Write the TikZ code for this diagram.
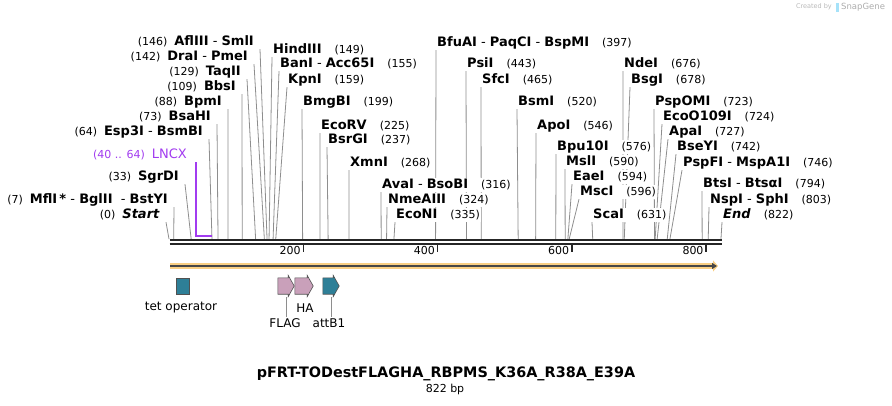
\documentclass[tikz,border=0pt]{standalone}
\usepackage{fontspec}
\setmainfont{DejaVu Sans}
\usetikzlibrary{arrows.meta,backgrounds}

\definecolor{sitegray}{HTML}{8E8E8E}
\definecolor{lncxpurple}{HTML}{A23CF0}
\definecolor{featteal}{HTML}{2E7F97}
\definecolor{featpink}{HTML}{C9A0BA}
\definecolor{bandorange}{HTML}{F9CF84}
\definecolor{bardark}{HTML}{262626}

\newcommand\enz[1]{\textbf{#1}}
\newcommand\bpn[1]{{\fontsize{11}{13}\selectfont(#1)}}
\newcommand\bpx[1]{169+0.6715*#1}
% arrow outline drawn round a named feature node
\newcommand\featshape[2]{%
  \draw[featbox, fill=#2] (#1.north west) -- ([xshift=-6pt]#1.north east)
    -- ([xshift=-6pt,yshift=2.5pt]#1.north east) -- (#1.east)
    -- ([xshift=-6pt,yshift=-2.5pt]#1.south east) -- ([xshift=-6pt]#1.south east)
    -- (#1.south west) -- cycle;}

\tikzset{
  sitebase/.style={fill=white, inner xsep=1pt, inner ysep=1pt, text height=9.5pt, text depth=2.5pt,
    font=\fontsize{13}{15}\selectfont},
  sitel/.style={sitebase, anchor=east},
  siter/.style={sitebase, anchor=west},
  cutline/.style={draw=sitegray, line width=0.8pt},
  seqbar/.style={draw=bardark, line width=2pt},
  scaletick/.style={draw=bardark, line width=1.6pt},
  scalenum/.style={font=\fontsize{11}{13}\selectfont, inner sep=1pt},
  featbox/.style={draw=bardark!80, line width=0.6pt, inner sep=0pt},
  featspot/.style={inner sep=0pt, minimum height=16pt},
  feattext/.style={font=\fontsize{12}{14}\selectfont, inner sep=1pt},
}

\begin{document}
\begin{tikzpicture}[x=1pt, y=-1pt]
\useasboundingbox (0,0) rectangle (892,405);

% sites left of their cut
\foreach \site/\xx/\yy/\txt [count=\i] in {
  146/255/42/{\enz{AflIII}\ -\ \enz{SmlI}},
  142/249/57/{\enz{DraI}\ -\ \enz{PmeI}},
  129/242/72/{\enz{TaqII}},
  109/237/87/{\enz{BbsI}},
  88/223/102/{\enz{BpmI}},
  73/212/117/{\enz{BsaHI}},
  64/204/132/{\enz{Esp3I}\ -\ \enz{BsmBI}},
  33/180/177/{\enz{SgrDI}},
  7/169/200/{\enz{MflI\,*}\ -\ \enz{BglII}\ \ -\ \enz{BstYI}},
  0/161/215/{\enz{\itshape Start}}} {
  \node[sitel] (l-\i) at (\xx,\yy) {\bpn{\site}\hspace{7pt}\txt};
  \coordinate (lc-\i) at ({\bpx{\site}},239);
  \begin{scope}[on background layer]
    \draw[cutline] ([xshift=5pt]l-\i.south east) -- (lc-\i);
  \end{scope}
}

% sites right of their cut
\foreach \site/\xx/\yy/\txt [count=\i] in {
  149/273/50/{\enz{HindIII}},
  155/280/64/{\enz{BanI}\ -\ \enz{Acc65I}},
  159/288/80/{\enz{KpnI}},
  199/303/102/{\enz{BmgBI}},
  225/321/126/{\enz{EcoRV}},
  237/328/140/{\enz{BsrGI}},
  268/350/163/{\enz{XmnI}},
  316/382/185/{\enz{AvaI}\ -\ \enz{BsoBI}},
  324/388/200/{\enz{NmeAIII}},
  335/396/215/{\enz{EcoNI}},
  397/437/43/{\enz{BfuAI}\ -\ \enz{PaqCI}\ -\ \enz{BspMI}},
  443/467/64/{\enz{PsiI}},
  465/482/80/{\enz{SfcI}},
  520/518/102/{\enz{BsmI}},
  546/537/126/{\enz{ApoI}},
  576/557/147/{\enz{Bpu10I}},
  590/566/162/{\enz{MslI}},
  594/573/177/{\enz{EaeI}},
  596/580/192/{\enz{MscI}},
  631/593/215/{\enz{ScaI}},
  676/624/64/{\enz{NdeI}},
  678/631/80/{\enz{BsgI}},
  723/655/102/{\enz{PspOMI}},
  724/663/117/{\enz{EcoO109I}},
  727/669/132/{\enz{ApaI}},
  742/677/147/{\enz{BseYI}},
  746/683/163/{\enz{PspFI}\ -\ \enz{MspA1I}},
  794/703/184/{\enz{BtsI}\ -\ \enz{BtsαI}},
  803/710/200/{\enz{NspI}\ -\ \enz{SphI}},
  822/723/215/{\enz{\itshape End}}} {
  \node[siter] (r-\i) at (\xx-1,\yy) {\txt\hspace{13pt}\bpn{\site}};
  \coordinate (rc-\i) at ({\bpx{\site}},239);
  \begin{scope}[on background layer]
    \draw[cutline] (r-\i.south west) -- (rc-\i);
  \end{scope}
}

% LNCX bracket
\node[sitel, text=lncxpurple] (lncx) at (188,155) {\bpn{40 .. 64}\hspace{7pt}LNCX};
\coordinate (lncx-a) at ({\bpx{40}},236);
\coordinate (lncx-b) at ({\bpx{64}},236);
\draw[lncxpurple, line width=1.3pt] (lncx-a |- lncx.south) -- (lncx-a) -- (lncx-b);

% sequence bar and scale
\coordinate (bar-a) at (169.5,240);
\coordinate (bar-b) at (722,240);
\coordinate (bar-c) at (169.5,244.3);
\coordinate (bar-d) at (722,244.3);
\draw[seqbar] (bar-a) -- (bar-b);
\draw[seqbar] (bar-c) -- (bar-d);
\foreach \t in {200,400,600,800} {
  \coordinate (tk-\t) at ({\bpx{\t}},245);
  \coordinate (tke-\t) at ({\bpx{\t}},252);
  \draw[scaletick] (tk-\t) -- (tke-\t);
  \node[scalenum, anchor=north east] (tn-\t) at ([xshift=-1.5pt]tk-\t) {\t};
}

% reading direction
\coordinate (ori-a) at (170,266);
\coordinate (ori-b) at (718,266);
\draw[bandorange, line width=5.5pt, -{Triangle[length=5pt,width=11pt]}] (ori-a) -- (ori-b);
\draw[bardark!85, line width=1.6pt, -{Triangle[length=5pt,width=6pt]}] (ori-a) -- ([xshift=-1pt]ori-b);

% features
\node[featbox, fill=featteal, minimum width=13pt, minimum height=16pt] (tetop) at (182.5,286) {};
\node[featspot, minimum width=16pt] (flag) at (286,286) {};
\node[featspot, minimum width=18pt] (ha) at (304,286) {};
\node[featspot, minimum width=16pt] (attb) at (331,286) {};
\featshape{flag}{featpink}
\featshape{ha}{featpink}
\featshape{attb}{featteal}
\node[feattext] (tetop-t) at (181,308) {tet operator};
\node[feattext] (ha-t) at (305,308) {HA};
\node[feattext] (flag-t) at (285,323) {FLAG};
\node[feattext] (attb-t) at (329,323) {attB1};
\draw[cutline] ([yshift=-3pt]flag.south) -- (flag.south |- flag-t.north);
\draw[cutline] ([yshift=-3pt]attb.south) -- (attb.south |- attb-t.north);

% title
\node[font=\bfseries\fontsize{14.4}{16}\selectfont] (title) at (446,374)
  {pFRT-TODestFLAGHA\_RBPMS\_K36A\_R38A\_E39A};
\node[font=\fontsize{11}{13}\selectfont] (size) at (445,389) {822 bp};

% credit
\node[anchor=east, text=gray!55, font=\fontsize{6.5}{8}\selectfont, inner sep=0pt] (credit) at (832,7) {Created by};
\node[anchor=west, fill=cyan!35, minimum width=2.5pt, minimum height=9pt, inner sep=0pt] (logo) at (836,7) {};
\node[anchor=west, text=gray!65, font=\fontsize{8.5}{10}\selectfont, inner sep=0pt] (snap) at (841,7) {SnapGene};
\end{tikzpicture}
\end{document}
